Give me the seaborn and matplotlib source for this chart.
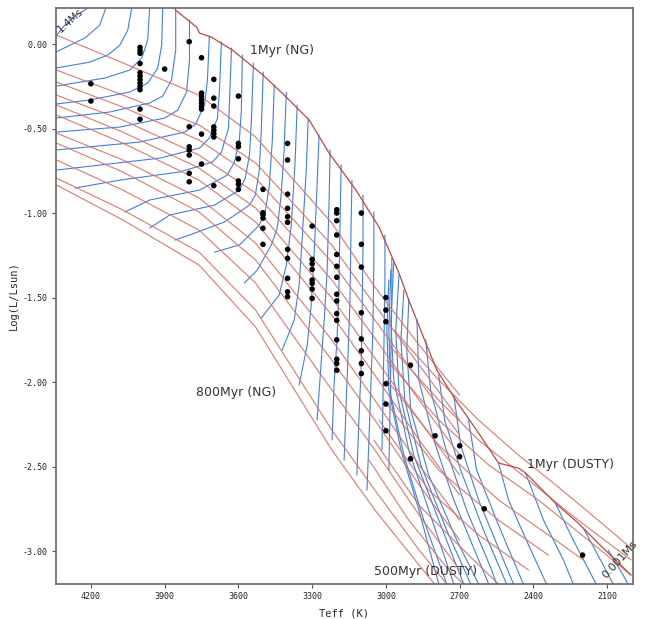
import numpy as np
import pandas as pd
import matplotlib
matplotlib.use("Agg")
import matplotlib.pyplot as plt
import seaborn as sns

# ==================== observed stars ====================
STAR_TEFF = [4200, 4000, 3900, 3800, 3750, 3700, 3600, 3500, 3400,
             3300, 3200, 3100, 3000, 2900, 2800, 2700, 2600, 2200]
STAR_LOGL = [
    [-0.235, -0.337],
    [-0.02, -0.04, -0.055, -0.115, -0.17, -0.19, -0.21, -0.23, -0.25, -0.27, -0.385, -0.445],
    [-0.148],
    [0.014, -0.489, -0.608, -0.627, -0.657, -0.765, -0.815],
    [-0.081, -0.29, -0.31, -0.33, -0.35, -0.37, -0.385, -0.533, -0.71],
    [-0.209, -0.32, -0.367, -0.49, -0.51, -0.53, -0.55, -0.838],
    [-0.308, -0.588, -0.607, -0.679, -0.81, -0.83, -0.86],
    [-0.86, -0.998, -1.01, -1.03, -1.09, -1.185],
    [-0.588, -0.686, -0.888, -0.972, -1.022, -1.055, -1.215, -1.268, -1.386, -1.466, -1.495],
    [-1.077, -1.274, -1.30, -1.333, -1.396, -1.416, -1.45, -1.505],
    [-0.98, -1.00, -1.045, -1.13, -1.245, -1.315, -1.38, -1.48, -1.52, -1.595, -1.635,
     -1.75, -1.865, -1.89, -1.93],
    [-1.00, -1.185, -1.32, -1.59, -1.745, -1.815, -1.89, -1.95],
    [-1.50, -1.574, -1.643, -2.01, -2.13, -2.288],
    [-1.90, -2.454],
    [-2.318],
    [-2.377, -2.442],
    [-2.75],
    [-3.024],
]

# ==================== NG isochrones (red) ====================
NG_ISO_TEFF = [4340, 4070, 3760, 3530, 3220, 3045, 2865, 2700]
NG_ISO_LOGL = [
    [0.053, -0.112, -0.302, -0.550, -1.059, -1.438, -1.781, -2.077],
    [-0.154, -0.302, -0.479, -0.704, -1.189, -1.544, -1.899, -2.225],
    [-0.225, -0.373, -0.568, -0.793, -1.290, -1.633, -1.988, -2.314],
    [-0.302, -0.450, -0.657, -0.882, -1.396, -1.740, -2.107, -2.432],
    [-0.361, -0.521, -0.734, -0.970, -1.503, -1.858, -2.225, -2.550],
    [-0.420, -0.586, -0.805, -1.053, -1.604, -1.959, -2.343, -2.669],
    [-0.527, -0.686, -0.911, -1.178, -1.751, -2.107, -2.491, -2.817],
    [-0.586, -0.757, -0.994, -1.278, -1.870, -2.225, -2.609, -2.935],
    [-0.686, -0.864, -1.101, -1.414, -2.047, -2.402, -2.787, -3.112],
    [-0.793, -0.982, -1.231, -1.574, -2.284, -2.639, -2.994, -3.290],
    [-0.834, -1.041, -1.308, -1.675, -2.402, -2.757, -3.083, -3.379],
]

# 1 Myr isochrone (NG upper part + DUSTY lower part)
ENV_TEFF = [3872, 3855, 3770, 3758, 3709, 3624, 3503, 3422, 3312, 3231, 3122, 3028,
            2947, 2907, 2854, 2793, 2716, 2623, 2542, 2461, 2432, 2311, 2218, 2137, 2003]
ENV_LOGL = [0.26, 0.20, 0.10, 0.065, 0.04, -0.036, -0.18, -0.29, -0.45, -0.645, -0.864,
            -1.083, -1.355, -1.515, -1.710, -1.929, -2.107, -2.302, -2.479, -2.509,
            -2.538, -2.716, -2.834, -2.953, -3.142]

# ==================== DUSTY isochrones (red) ====================
DUSTY_ISO_TEFF = [
    [2968, 2785, 2623, 2461, 2299, 2137, 2003],
    [2988, 2785, 2623, 2420, 2218, 2003],
    [2996, 2785, 2582, 2380, 2177, 2003],
    [2996, 2785, 2542, 2339, 2197],
    [3008, 2785, 2542, 2339],
    [3028, 2826, 2623, 2420],
    [3049, 2866, 2664, 2542],
    [3069, 2907, 2745, 2684],
]
DUSTY_ISO_LOGL = [
    [-1.692, -1.988, -2.225, -2.432, -2.621, -2.817, -2.982],
    [-1.781, -2.107, -2.343, -2.580, -2.817, -3.053],
    [-1.870, -2.225, -2.491, -2.698, -2.935, -3.142],
    [-1.988, -2.373, -2.698, -2.905, -3.053],
    [-2.107, -2.521, -2.817, -3.024],
    [-2.225, -2.639, -2.905, -3.112],
    [-2.343, -2.728, -3.024, -3.195],
    [-2.462, -2.817, -3.112, -3.195],
]

# ==================== NG tracks (blue) ====================
NG_TRACK_TEFF = [
    [4342, 4309, 4265, 4212],
    [4139, 4164, 4224, 4342],
    [4034, 4050, 4082, 4131, 4204, 4342],
    [3961, 3969, 3993, 4042, 4143, 4342],
    [3908, 3912, 3928, 3969, 4042, 4204, 4342],
    [3855, 3855, 3872, 3908, 3961, 4123, 4342],
    [3799, 3799, 3811, 3847, 3900, 4082, 4342],
    [3718, 3726, 3738, 3774, 3819, 4001, 4342],
    [3669, 3677, 3685, 3718, 3758, 3920, 4342],
    [3628, 3636, 3640, 3669, 3705, 3839, 4082, 4265],
    [3584, 3588, 3596, 3616, 3645, 3758, 3961, 4062],
    [3539, 3547, 3555, 3572, 3596, 3697, 3880, 3961],
    [3499, 3507, 3515, 3531, 3555, 3657, 3799, 3859],
    [3454, 3462, 3474, 3491, 3515, 3596, 3697],
    [3405, 3414, 3426, 3442, 3466, 3523, 3576],
    [3361, 3369, 3385, 3405, 3434, 3507],
    [3316, 3324, 3341, 3353, 3373, 3422],
    [3272, 3280, 3292, 3304, 3320, 3353],
    [3227, 3231, 3239, 3251, 3264, 3280],
    [3182, 3186, 3191, 3199, 3211, 3219],
    [3138, 3142, 3146, 3154, 3162, 3170],
    [3093, 3093, 3097, 3101, 3110, 3118],
    [3049, 3049, 3053, 3061, 3069, 3077],
    [3004, 3004, 3008, 3012, 3016],
    [2976, 2976, 2980, 2984, 2988],
]
NG_TRACK_LOGL = [
    [0.047, 0.107, 0.166, 0.213],
    [0.213, 0.112, 0.036, -0.047],
    [0.213, 0.083, -0.006, -0.065, -0.107, -0.142],
    [0.213, 0.024, -0.083, -0.154, -0.201, -0.249],
    [0.213, -0.006, -0.142, -0.231, -0.284, -0.331, -0.355],
    [0.201, -0.036, -0.213, -0.308, -0.349, -0.402, -0.438],
    [0.142, -0.095, -0.284, -0.391, -0.438, -0.491, -0.521],
    [0.047, -0.213, -0.361, -0.473, -0.521, -0.580, -0.627],
    [0.012, -0.272, -0.438, -0.556, -0.615, -0.675, -0.746],
    [-0.024, -0.331, -0.497, -0.639, -0.698, -0.757, -0.805, -0.852],
    [-0.065, -0.391, -0.568, -0.698, -0.775, -0.864, -0.923, -0.994],
    [-0.112, -0.450, -0.657, -0.793, -0.864, -0.953, -1.012, -1.089],
    [-0.166, -0.509, -0.746, -0.893, -0.953, -1.053, -1.130, -1.160],
    [-0.243, -0.568, -0.834, -0.994, -1.071, -1.189, -1.231],
    [-0.284, -0.627, -0.893, -1.089, -1.189, -1.337, -1.414],
    [-0.361, -0.686, -1.071, -1.308, -1.485, -1.621],
    [-0.438, -0.746, -1.160, -1.426, -1.633, -1.811],
    [-0.538, -0.834, -1.249, -1.544, -1.781, -2.018],
    [-0.627, -0.923, -1.337, -1.633, -1.899, -2.225],
    [-0.716, -1.012, -1.426, -1.751, -2.018, -2.343],
    [-0.805, -1.101, -1.515, -1.840, -2.136, -2.462],
    [-0.893, -1.189, -1.604, -1.929, -2.225, -2.550],
    [-0.994, -1.278, -1.692, -2.018, -2.343, -2.639],
    [-1.130, -1.396, -1.781, -2.107, -2.402],
    [-1.266, -1.515, -1.870, -2.225, -2.521],
]

# ==================== DUSTY tracks (blue) ====================
DUSTY_TRACK_TEFF = [
    [2988, 2996, 2988, 2939, 2866, 2785],
    [2980, 2988, 2980, 2927, 2846, 2753],
    [2968, 2980, 2968, 2907, 2826, 2724],
    [2947, 2960, 2947, 2887, 2785, 2684],
    [2927, 2939, 2923, 2858, 2753, 2655],
    [2907, 2915, 2899, 2826, 2712, 2623],
    [2874, 2866, 2805, 2724, 2631, 2582],
    [2838, 2818, 2761, 2672, 2570, 2550],
    [2785, 2761, 2696, 2603, 2509],
    [2724, 2696, 2623, 2522, 2481],
    [2664, 2631, 2542, 2441],
    [2542, 2501, 2420, 2347],
    [2432, 2359, 2278, 2238],
    [2311, 2238, 2145],
    [2197, 2116, 2076],
    [2096, 2035, 2015],
]
DUSTY_TRACK_LOGL = [
    [-1.396, -1.692, -2.047, -2.402, -2.757, -3.195],
    [-1.337, -1.692, -2.077, -2.432, -2.817, -3.195],
    [-1.290, -1.633, -1.988, -2.402, -2.757, -3.195],
    [-1.367, -1.692, -2.047, -2.432, -2.817, -3.195],
    [-1.456, -1.751, -2.107, -2.491, -2.876, -3.195],
    [-1.515, -1.811, -2.166, -2.550, -2.935, -3.195],
    [-1.633, -1.988, -2.343, -2.698, -3.024, -3.195],
    [-1.751, -2.047, -2.373, -2.757, -3.112, -3.195],
    [-1.959, -2.225, -2.521, -2.876, -3.195],
    [-2.077, -2.373, -2.698, -3.053, -3.195],
    [-2.225, -2.521, -2.846, -3.195],
    [-2.479, -2.698, -2.964, -3.195],
    [-2.538, -2.817, -3.053, -3.195],
    [-2.716, -2.935, -3.195],
    [-2.864, -3.083, -3.195],
    [-2.994, -3.142, -3.195],
]

RED = "#da6a5e"
BLUE = "#3f80e2"


def curves_to_frame(teff_lists, logl_lists, shared_teff=False):
    rows = []
    for i, logl in enumerate(logl_lists):
        teff = teff_lists if shared_teff else teff_lists[i]
        for t, l in zip(teff, logl):
            rows.append({"teff": t, "logL": l, "curve": i})
    return pd.DataFrame(rows)


tracks = pd.concat([
    curves_to_frame(NG_TRACK_TEFF, NG_TRACK_LOGL),
    curves_to_frame(DUSTY_TRACK_TEFF, DUSTY_TRACK_LOGL).assign(curve=lambda d: d["curve"] + 100),
], ignore_index=True)
isos = pd.concat([
    curves_to_frame(NG_ISO_TEFF, NG_ISO_LOGL, shared_teff=True),
    curves_to_frame(DUSTY_ISO_TEFF, DUSTY_ISO_LOGL).assign(curve=lambda d: d["curve"] + 100),
], ignore_index=True)
env = pd.DataFrame({"teff": ENV_TEFF, "logL": ENV_LOGL})

stars = pd.DataFrame([{"teff": t, "logL": l}
                      for t, ls in zip(STAR_TEFF, STAR_LOGL) for l in ls])

sns.set_theme(style="ticks")
plt.rcParams["font.family"] = ["DejaVu Sans"]

fig = plt.figure(figsize=(6.64, 6.19), dpi=100)
ax = fig.add_axes([0.0843, 0.0565, 0.869, 0.9305])

sns.lineplot(data=tracks, x="teff", y="logL", units="curve", estimator=None,
             sort=False, color=BLUE, linewidth=0.8, ax=ax, legend=False)
sns.lineplot(data=isos, x="teff", y="logL", units="curve", estimator=None,
             sort=False, color=RED, linewidth=0.8, alpha=0.9, ax=ax, legend=False)
sns.lineplot(data=env, x="teff", y="logL", estimator=None, sort=False,
             color="#c0473f", linewidth=0.9, ax=ax, legend=False)
sns.scatterplot(data=stars, x="teff", y="logL", color="black", s=16,
                edgecolor="none", ax=ax, zorder=5)

ax.set_xlim(4342, 1995)
ax.set_ylim(-3.195, 0.213)
ax.set_xticks([4200, 3900, 3600, 3300, 3000, 2700, 2400, 2100])
ax.set_yticks([0.0, -0.5, -1.0, -1.5, -2.0, -2.5, -3.0])
ax.set_yticklabels([f"{v:.2f}" for v in ax.get_yticks()])

for lab in ax.get_xticklabels() + ax.get_yticklabels():
    lab.set_family("DejaVu Sans Mono")
    lab.set_fontsize(6)
    lab.set_color("#222222")
ax.tick_params(length=3, width=0.8, color="#555555", pad=3)
for sp in ax.spines.values():
    sp.set_visible(True)
    sp.set_color("#666666")
    sp.set_linewidth(1.2)

ax.set_xlabel("Teff (K)", family="DejaVu Sans Mono", fontsize=7.5, labelpad=5)
ax.set_ylabel("Log(L/Lsun)", family="DejaVu Sans Mono", fontsize=7.5, labelpad=3)

txt = dict(fontsize=9, color="#333333", ha="center", va="center")
ax.text(3422, -0.04, "1Myr (NG)", **txt)
ax.text(3608, -2.06, "800Myr (NG)", **txt)
ax.text(2250, -2.49, "1Myr (DUSTY)", **txt)
ax.text(2838, -3.12, "500Myr (DUSTY)", **txt)
ax.text(4285, 0.14, "1.4Ms", rotation=42, fontsize=7.5, color="#333333",
        ha="center", va="center")
ax.text(2047, -3.05, "0.001Ms", rotation=48, fontsize=8, color="#333333",
        ha="center", va="center")

fig.savefig("out.png", dpi=100)
plt.close(fig)
